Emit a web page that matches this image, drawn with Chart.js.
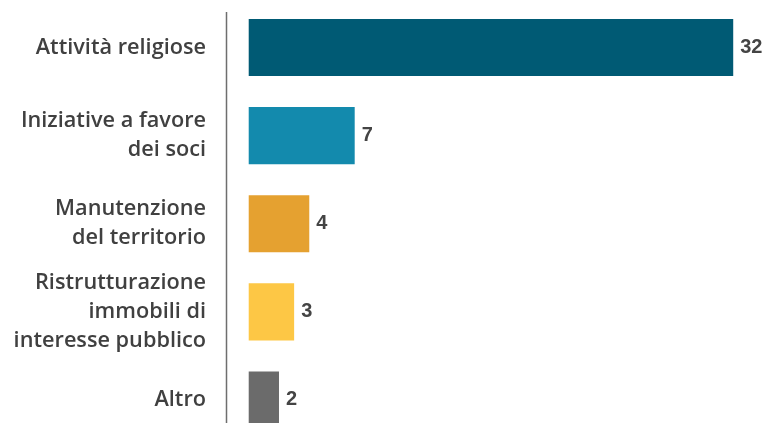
<!DOCTYPE html>
<html>
<head>
<meta charset="utf-8">
<script src="https://cdn.jsdelivr.net/npm/chart.js@4.4.1/dist/chart.umd.min.js"></script>
<style>
html, body { margin: 0; padding: 0; background: #fff; overflow: hidden; }
canvas { display: block; }
</style>
</head>
<body>
<canvas id="chart" width="765" height="444"></canvas>
<script>
// categorie e valori
const categories = [
    ['Attività religiose'],
    ['Iniziative a favore', 'dei soci'],
    ['Manutenzione', 'del territorio'],
    ['Ristrutturazione', 'immobili di', 'interesse pubblico'],
    ['Altro']
];
const values = [32, 7, 4, 3, 2];
const barColors = ['#005a74', '#138aad', '#e5a130', '#fdc745', '#6b6b6b'];

const labelFont = '"Open Sans", sans-serif';
const valueFont = 'bold 20px "Liberation Sans", Arial, sans-serif';

// etichette con il valore a fine barra
const valueLabels = {
    id: 'valueLabels',
    afterDatasetsDraw(chart) {
        const ctx = chart.ctx;
        const meta = chart.getDatasetMeta(0);
        ctx.save();
        ctx.font = valueFont;
        ctx.fillStyle = '#444444';
        ctx.textAlign = 'left';
        ctx.textBaseline = 'middle';
        meta.data.forEach((bar, i) => {
            ctx.fillText(values[i], bar.x + 7, bar.y);
        });
        ctx.restore();
    }
};

// linea verticale dell'asse
const axisLine = {
    id: 'axisLine',
    afterDraw(chart) {
        const ctx = chart.ctx;
        const area = chart.chartArea;
        ctx.save();
        ctx.strokeStyle = '#6e6e6e';
        ctx.lineWidth = 1.5;
        ctx.beginPath();
        ctx.moveTo(area.left + 0.5, area.top + 8.5);
        ctx.lineTo(area.left + 0.5, chart.height);
        ctx.stroke();
        ctx.restore();
    }
};

function drawChart() {
    const ctx = document.getElementById('chart').getContext('2d');
    new Chart(ctx, {
        type: 'bar',
        data: {
            labels: categories,
            datasets: [{
                data: values,
                backgroundColor: barColors,
                borderWidth: 0,
                categoryPercentage: 0.648,
                barPercentage: 1
            }]
        },
        options: {
            indexAxis: 'y',
            responsive: false,
            animation: false,
            layout: { padding: { top: 3.5, right: 1.5, bottom: 0, left: 0 } },
            plugins: {
                legend: { display: false },
                tooltip: { enabled: false }
            },
            scales: {
                x: {
                    display: false,
                    min: -1.5,
                    max: 34
                },
                y: {
                    afterFit(scale) {
                        scale.width = 226;
                        scale.paddingTop = 0;
                        scale.paddingBottom = 0;
                    },
                    grid: { display: false, drawTicks: false },
                    border: { display: false },
                    ticks: {
                        autoSkip: false,
                        color: '#404040',
                        padding: 20,
                        font: { family: labelFont, size: 21.7, weight: '600', lineHeight: 1.34 }
                    }
                }
            }
        },
        plugins: [valueLabels, axisLine]
    });
}

// aspetta i font prima di disegnare
Promise.all([
    document.fonts.load('600 22px "Open Sans"'),
    document.fonts.load(valueFont)
]).then(drawChart, drawChart);
</script>
</body>
</html>
